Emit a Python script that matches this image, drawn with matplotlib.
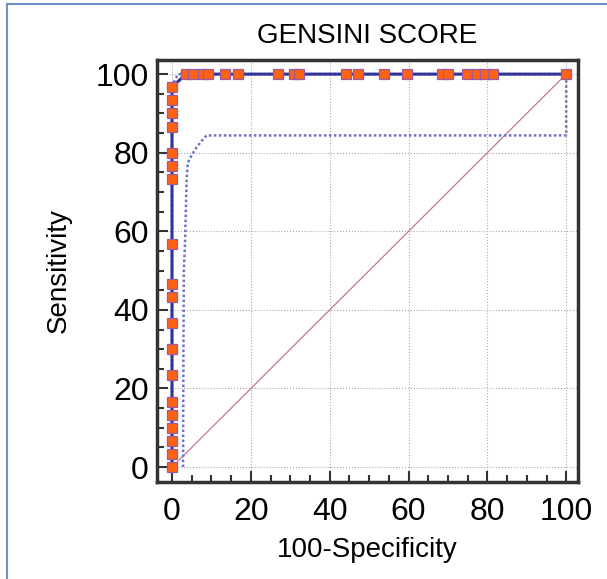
import matplotlib.pyplot as plt
from matplotlib.lines import Line2D
from matplotlib.ticker import MultipleLocator

plt.rcParams['font.family'] = ['Liberation Sans', 'DejaVu Sans']

# ROC points (100-Specificity, Sensitivity)
fpr_vertical = [0] * 19
sens_vertical = [0, 3.33, 6.67, 10, 13.33, 16.67, 23.33, 30, 36.67, 43.33,
                 46.67, 56.67, 73.33, 76.67, 80, 86.67, 90, 93.33, 96.67]
fpr_top = [3.5, 5.4, 7.9, 9.1, 13.5, 16.8, 27.0, 31.0, 32.2, 44.1, 47.3,
           53.8, 59.7, 68.5, 70.1, 74.9, 77.3, 79.4, 81.5, 100]
sens_top = [100] * 20

# confidence bounds (dotted)
lower_x = [2.8, 2.9, 3.0, 3.3, 3.7, 4.0, 5.0, 6.3, 8.0, 8.8, 100, 100]
lower_y = [0, 30, 50, 57, 73, 77.4, 79.4, 81.5, 83.6, 84.4, 84.4, 100]
upper_x = [0, 0, 1.5, 100]
upper_y = [0, 97, 100, 100]

roc_x = fpr_vertical + fpr_top
roc_y = sens_vertical + sens_top

fig = plt.figure(figsize=(6.07, 5.79), dpi=100)
ax = fig.add_axes([0.2587, 0.1675, 0.6936, 0.7289])

ax.plot([0, 100], [0, 100], color='#C07A88', linewidth=0.9, zorder=2)
ax.plot(upper_x, upper_y, color='#6F6FC8', linewidth=1.8, linestyle=(0, (1, 1)), zorder=2)
ax.plot(lower_x, lower_y, color='#6F6FC8', linewidth=1.8, linestyle=(0, (1, 1)), zorder=2)
ax.plot(roc_x, roc_y, color='#33339A', linewidth=2.2, zorder=3)
ax.plot(roc_x, roc_y, linestyle='none', marker='s', markersize=7.6,
        markerfacecolor='#FF6210', markeredgecolor='#9A5AA8', markeredgewidth=0.9, zorder=4)

ax.set_xlim(-3.8, 103)
ax.set_ylim(-3.8, 103.6)
ax.xaxis.set_major_locator(MultipleLocator(20))
ax.yaxis.set_major_locator(MultipleLocator(20))
ax.xaxis.set_minor_locator(MultipleLocator(5))
ax.yaxis.set_minor_locator(MultipleLocator(5))
ax.tick_params(which='both', direction='in', width=1.5, color='#333333', labelsize=23)
ax.tick_params(which='major', length=8)
ax.tick_params(which='minor', length=5)
ax.tick_params(axis='x', pad=11)
ax.tick_params(axis='y', pad=6)
for s in ax.spines.values():
    s.set_linewidth(2.5)
    s.set_color('#333333')

ax.grid(True, which='major', color='#AAAAAA', linestyle=':', linewidth=0.8)
ax.set_axisbelow(True)

ax.set_title('GENSINI SCORE', fontsize=20, pad=12)
ax.set_xlabel('100-Specificity', fontsize=20, labelpad=7)
ax.set_ylabel('Sensitivity', fontsize=20, labelpad=17)

# light blue frame round the figure
fig.add_artist(Line2D([7 / 607, 7 / 607], [0, 1 - 4 / 579], transform=fig.transFigure,
                      color='#7090C8', linewidth=1.5))
fig.add_artist(Line2D([7 / 607, 1], [1 - 4 / 579, 1 - 4 / 579], transform=fig.transFigure,
                      color='#7090C8', linewidth=1.5))

fig.savefig('out.png', dpi=100)
